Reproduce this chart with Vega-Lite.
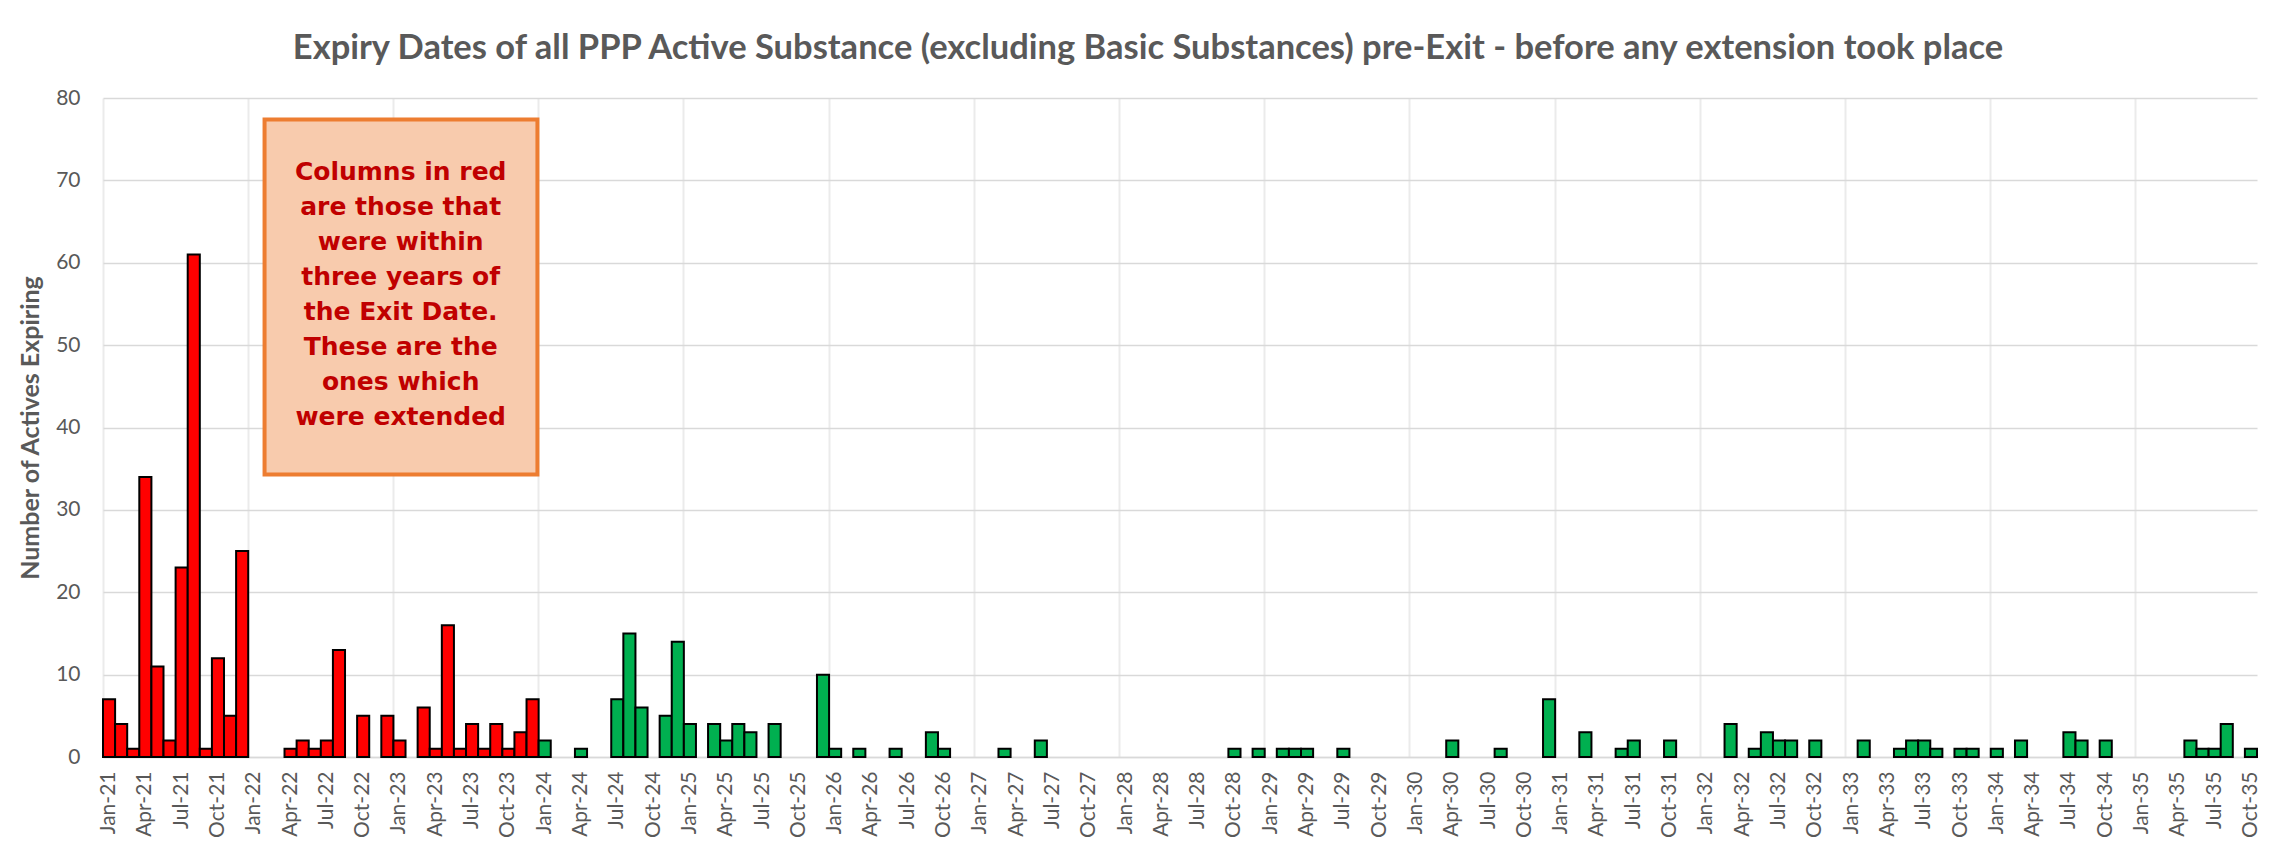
{
  "$schema": "https://vega.github.io/schema/vega-lite/v6.json",
  "width": 2154,
  "height": 659,
  "autosize": {"type": "none"},
  "padding": {"left": 103, "top": 98, "right": 30, "bottom": 104},
  "background": "white",
  "title": {
    "text": "Expiry Dates of all PPP Active Substance (excluding Basic Substances) pre-Exit - before any extension took place",
    "font": "Lato",
    "fontSize": 34.5,
    "fontWeight": "bold",
    "color": "#595959",
    "anchor": "middle",
    "frame": "group",
    "baseline": "alphabetic",
    "offset": 38,
    "dy": 44,
    "dx": -32
  },
  "config": {
    "view": {"stroke": null},
    "axis": {"labelFont": "Lato", "titleFont": "Lato"}
  },
  "datasets": {
    "expiries": [
      {"month": "Jan-21", "count": 7, "extended": "Yes"},
      {"month": "Feb-21", "count": 4, "extended": "Yes"},
      {"month": "Mar-21", "count": 1, "extended": "Yes"},
      {"month": "Apr-21", "count": 34, "extended": "Yes"},
      {"month": "May-21", "count": 11, "extended": "Yes"},
      {"month": "Jun-21", "count": 2, "extended": "Yes"},
      {"month": "Jul-21", "count": 23, "extended": "Yes"},
      {"month": "Aug-21", "count": 61, "extended": "Yes"},
      {"month": "Sep-21", "count": 1, "extended": "Yes"},
      {"month": "Oct-21", "count": 12, "extended": "Yes"},
      {"month": "Nov-21", "count": 5, "extended": "Yes"},
      {"month": "Dec-21", "count": 25, "extended": "Yes"},
      {"month": "Apr-22", "count": 1, "extended": "Yes"},
      {"month": "May-22", "count": 2, "extended": "Yes"},
      {"month": "Jun-22", "count": 1, "extended": "Yes"},
      {"month": "Jul-22", "count": 2, "extended": "Yes"},
      {"month": "Aug-22", "count": 13, "extended": "Yes"},
      {"month": "Oct-22", "count": 5, "extended": "Yes"},
      {"month": "Dec-22", "count": 5, "extended": "Yes"},
      {"month": "Jan-23", "count": 2, "extended": "Yes"},
      {"month": "Mar-23", "count": 6, "extended": "Yes"},
      {"month": "Apr-23", "count": 1, "extended": "Yes"},
      {"month": "May-23", "count": 16, "extended": "Yes"},
      {"month": "Jun-23", "count": 1, "extended": "Yes"},
      {"month": "Jul-23", "count": 4, "extended": "Yes"},
      {"month": "Aug-23", "count": 1, "extended": "Yes"},
      {"month": "Sep-23", "count": 4, "extended": "Yes"},
      {"month": "Oct-23", "count": 1, "extended": "Yes"},
      {"month": "Nov-23", "count": 3, "extended": "Yes"},
      {"month": "Dec-23", "count": 7, "extended": "Yes"},
      {"month": "Jan-24", "count": 2, "extended": "No"},
      {"month": "Apr-24", "count": 1, "extended": "No"},
      {"month": "Jul-24", "count": 7, "extended": "No"},
      {"month": "Aug-24", "count": 15, "extended": "No"},
      {"month": "Sep-24", "count": 6, "extended": "No"},
      {"month": "Nov-24", "count": 5, "extended": "No"},
      {"month": "Dec-24", "count": 14, "extended": "No"},
      {"month": "Jan-25", "count": 4, "extended": "No"},
      {"month": "Mar-25", "count": 4, "extended": "No"},
      {"month": "Apr-25", "count": 2, "extended": "No"},
      {"month": "May-25", "count": 4, "extended": "No"},
      {"month": "Jun-25", "count": 3, "extended": "No"},
      {"month": "Aug-25", "count": 4, "extended": "No"},
      {"month": "Dec-25", "count": 10, "extended": "No"},
      {"month": "Jan-26", "count": 1, "extended": "No"},
      {"month": "Mar-26", "count": 1, "extended": "No"},
      {"month": "Jun-26", "count": 1, "extended": "No"},
      {"month": "Sep-26", "count": 3, "extended": "No"},
      {"month": "Oct-26", "count": 1, "extended": "No"},
      {"month": "Mar-27", "count": 1, "extended": "No"},
      {"month": "Jun-27", "count": 2, "extended": "No"},
      {"month": "Oct-28", "count": 1, "extended": "No"},
      {"month": "Dec-28", "count": 1, "extended": "No"},
      {"month": "Feb-29", "count": 1, "extended": "No"},
      {"month": "Mar-29", "count": 1, "extended": "No"},
      {"month": "Apr-29", "count": 1, "extended": "No"},
      {"month": "Jul-29", "count": 1, "extended": "No"},
      {"month": "Apr-30", "count": 2, "extended": "No"},
      {"month": "Aug-30", "count": 1, "extended": "No"},
      {"month": "Dec-30", "count": 7, "extended": "No"},
      {"month": "Mar-31", "count": 3, "extended": "No"},
      {"month": "Jun-31", "count": 1, "extended": "No"},
      {"month": "Jul-31", "count": 2, "extended": "No"},
      {"month": "Oct-31", "count": 2, "extended": "No"},
      {"month": "Mar-32", "count": 4, "extended": "No"},
      {"month": "May-32", "count": 1, "extended": "No"},
      {"month": "Jun-32", "count": 3, "extended": "No"},
      {"month": "Jul-32", "count": 2, "extended": "No"},
      {"month": "Aug-32", "count": 2, "extended": "No"},
      {"month": "Oct-32", "count": 2, "extended": "No"},
      {"month": "Feb-33", "count": 2, "extended": "No"},
      {"month": "May-33", "count": 1, "extended": "No"},
      {"month": "Jun-33", "count": 2, "extended": "No"},
      {"month": "Jul-33", "count": 2, "extended": "No"},
      {"month": "Aug-33", "count": 1, "extended": "No"},
      {"month": "Oct-33", "count": 1, "extended": "No"},
      {"month": "Nov-33", "count": 1, "extended": "No"},
      {"month": "Jan-34", "count": 1, "extended": "No"},
      {"month": "Mar-34", "count": 2, "extended": "No"},
      {"month": "Jul-34", "count": 3, "extended": "No"},
      {"month": "Aug-34", "count": 2, "extended": "No"},
      {"month": "Oct-34", "count": 2, "extended": "No"},
      {"month": "May-35", "count": 2, "extended": "No"},
      {"month": "Jun-35", "count": 1, "extended": "No"},
      {"month": "Jul-35", "count": 1, "extended": "No"},
      {"month": "Aug-35", "count": 4, "extended": "No"},
      {"month": "Oct-35", "count": 1, "extended": "No"}
    ]
  },
  "layer": [
    {
      "data": {"name": "expiries"},
      "mark": {"type": "rule", "opacity": 0},
      "encoding": {
        "x": {
          "field": "month",
          "type": "ordinal",
          "scale": {
            "type": "band",
            "paddingInner": 0,
            "paddingOuter": 0,
            "domain": ["Jan-21","Feb-21","Mar-21","Apr-21","May-21","Jun-21","Jul-21","Aug-21","Sep-21","Oct-21","Nov-21","Dec-21","Jan-22","Feb-22","Mar-22","Apr-22","May-22","Jun-22","Jul-22","Aug-22","Sep-22","Oct-22","Nov-22","Dec-22","Jan-23","Feb-23","Mar-23","Apr-23","May-23","Jun-23","Jul-23","Aug-23","Sep-23","Oct-23","Nov-23","Dec-23","Jan-24","Feb-24","Mar-24","Apr-24","May-24","Jun-24","Jul-24","Aug-24","Sep-24","Oct-24","Nov-24","Dec-24","Jan-25","Feb-25","Mar-25","Apr-25","May-25","Jun-25","Jul-25","Aug-25","Sep-25","Oct-25","Nov-25","Dec-25","Jan-26","Feb-26","Mar-26","Apr-26","May-26","Jun-26","Jul-26","Aug-26","Sep-26","Oct-26","Nov-26","Dec-26","Jan-27","Feb-27","Mar-27","Apr-27","May-27","Jun-27","Jul-27","Aug-27","Sep-27","Oct-27","Nov-27","Dec-27","Jan-28","Feb-28","Mar-28","Apr-28","May-28","Jun-28","Jul-28","Aug-28","Sep-28","Oct-28","Nov-28","Dec-28","Jan-29","Feb-29","Mar-29","Apr-29","May-29","Jun-29","Jul-29","Aug-29","Sep-29","Oct-29","Nov-29","Dec-29","Jan-30","Feb-30","Mar-30","Apr-30","May-30","Jun-30","Jul-30","Aug-30","Sep-30","Oct-30","Nov-30","Dec-30","Jan-31","Feb-31","Mar-31","Apr-31","May-31","Jun-31","Jul-31","Aug-31","Sep-31","Oct-31","Nov-31","Dec-31","Jan-32","Feb-32","Mar-32","Apr-32","May-32","Jun-32","Jul-32","Aug-32","Sep-32","Oct-32","Nov-32","Dec-32","Jan-33","Feb-33","Mar-33","Apr-33","May-33","Jun-33","Jul-33","Aug-33","Sep-33","Oct-33","Nov-33","Dec-33","Jan-34","Feb-34","Mar-34","Apr-34","May-34","Jun-34","Jul-34","Aug-34","Sep-34","Oct-34","Nov-34","Dec-34","Jan-35","Feb-35","Mar-35","Apr-35","May-35","Jun-35","Jul-35","Aug-35","Sep-35","Oct-35"]
          },
          "axis": {
            "orient": "bottom",
            "values": ["Jan-21","Jan-22","Jan-23","Jan-24","Jan-25","Jan-26","Jan-27","Jan-28","Jan-29","Jan-30","Jan-31","Jan-32","Jan-33","Jan-34","Jan-35"],
            "bandPosition": 0,
            "grid": true,
            "gridColor": "#EBEBEB",
            "gridWidth": 2,
            "labels": false,
            "ticks": false,
            "domain": false,
            "title": null
          }
        }
      }
    },
    {
      "data": {"name": "expiries"},
      "mark": {"type": "bar", "stroke": "black", "strokeWidth": 2},
      "encoding": {
        "x": {
          "field": "month",
          "type": "ordinal",
          "scale": {
            "type": "band",
            "paddingInner": 0,
            "paddingOuter": 0,
            "domain": ["Jan-21","Feb-21","Mar-21","Apr-21","May-21","Jun-21","Jul-21","Aug-21","Sep-21","Oct-21","Nov-21","Dec-21","Jan-22","Feb-22","Mar-22","Apr-22","May-22","Jun-22","Jul-22","Aug-22","Sep-22","Oct-22","Nov-22","Dec-22","Jan-23","Feb-23","Mar-23","Apr-23","May-23","Jun-23","Jul-23","Aug-23","Sep-23","Oct-23","Nov-23","Dec-23","Jan-24","Feb-24","Mar-24","Apr-24","May-24","Jun-24","Jul-24","Aug-24","Sep-24","Oct-24","Nov-24","Dec-24","Jan-25","Feb-25","Mar-25","Apr-25","May-25","Jun-25","Jul-25","Aug-25","Sep-25","Oct-25","Nov-25","Dec-25","Jan-26","Feb-26","Mar-26","Apr-26","May-26","Jun-26","Jul-26","Aug-26","Sep-26","Oct-26","Nov-26","Dec-26","Jan-27","Feb-27","Mar-27","Apr-27","May-27","Jun-27","Jul-27","Aug-27","Sep-27","Oct-27","Nov-27","Dec-27","Jan-28","Feb-28","Mar-28","Apr-28","May-28","Jun-28","Jul-28","Aug-28","Sep-28","Oct-28","Nov-28","Dec-28","Jan-29","Feb-29","Mar-29","Apr-29","May-29","Jun-29","Jul-29","Aug-29","Sep-29","Oct-29","Nov-29","Dec-29","Jan-30","Feb-30","Mar-30","Apr-30","May-30","Jun-30","Jul-30","Aug-30","Sep-30","Oct-30","Nov-30","Dec-30","Jan-31","Feb-31","Mar-31","Apr-31","May-31","Jun-31","Jul-31","Aug-31","Sep-31","Oct-31","Nov-31","Dec-31","Jan-32","Feb-32","Mar-32","Apr-32","May-32","Jun-32","Jul-32","Aug-32","Sep-32","Oct-32","Nov-32","Dec-32","Jan-33","Feb-33","Mar-33","Apr-33","May-33","Jun-33","Jul-33","Aug-33","Sep-33","Oct-33","Nov-33","Dec-33","Jan-34","Feb-34","Mar-34","Apr-34","May-34","Jun-34","Jul-34","Aug-34","Sep-34","Oct-34","Nov-34","Dec-34","Jan-35","Feb-35","Mar-35","Apr-35","May-35","Jun-35","Jul-35","Aug-35","Sep-35","Oct-35"]
          },
          "axis": {
            "orient": "bottom",
            "values": ["Jan-21","Apr-21","Jul-21","Oct-21","Jan-22","Apr-22","Jul-22","Oct-22","Jan-23","Apr-23","Jul-23","Oct-23","Jan-24","Apr-24","Jul-24","Oct-24","Jan-25","Apr-25","Jul-25","Oct-25","Jan-26","Apr-26","Jul-26","Oct-26","Jan-27","Apr-27","Jul-27","Oct-27","Jan-28","Apr-28","Jul-28","Oct-28","Jan-29","Apr-29","Jul-29","Oct-29","Jan-30","Apr-30","Jul-30","Oct-30","Jan-31","Apr-31","Jul-31","Oct-31","Jan-32","Apr-32","Jul-32","Oct-32","Jan-33","Apr-33","Jul-33","Oct-33","Jan-34","Apr-34","Jul-34","Oct-34","Jan-35","Apr-35","Jul-35","Oct-35"],
            "labelAngle": -90,
            "labelFontSize": 21,
            "labelColor": "#595959",
            "labelPadding": 14,
            "ticks": false,
            "grid": false,
            "domainColor": "#D9D9D9",
            "domainWidth": 1.5,
            "title": null
          }
        },
        "y": {
          "field": "count",
          "type": "quantitative",
          "title": "Number of Actives Expiring",
          "scale": {"domain": [0, 80], "nice": false},
          "axis": {
            "values": [0, 10, 20, 30, 40, 50, 60, 70, 80],
            "labelFontSize": 21,
            "labelColor": "#595959",
            "labelPadding": 23,
            "ticks": false,
            "domain": false,
            "gridColor": "#D9D9D9",
            "gridWidth": 1.5,
            "titleFontSize": 25,
            "titleFontWeight": "bold",
            "titleColor": "#595959",
            "titlePadding": 12
          }
        },
        "color": {
          "field": "extended",
          "type": "nominal",
          "scale": {"domain": ["Yes", "No"], "range": ["#FF0000", "#00B050"]},
          "legend": null
        }
      }
    },
    {
      "data": {"values": [{}]},
      "layer": [
        {
          "mark": {"type": "rect", "fill": "#F8CBAD", "stroke": "#ED7D31", "strokeWidth": 4},
          "encoding": {
            "x": {"datum": 13.35, "type": "quantitative", "scale": {"domain": [0, 178], "nice": false, "zero": false}, "axis": null},
            "x2": {"datum": 35.9},
            "y": {"datum": 34.3, "type": "quantitative", "title": "Number of Actives Expiring"},
            "y2": {"datum": 77.4}
          }
        },
        {
          "mark": {
            "type": "text",
            "text": ["Columns in red", "are those that", "were within", "three years of", "the Exit Date.", "These are the", "ones which", "were extended"],
            "font": "DejaVu Sans",
            "fontWeight": "bold",
            "fontSize": 25,
            "lineHeight": 35,
            "color": "#C00000",
            "align": "center",
            "baseline": "middle"
          },
          "encoding": {
            "x": {"datum": 24.6, "type": "quantitative", "axis": null},
            "y": {"datum": 71.0, "type": "quantitative", "title": "Number of Actives Expiring"}
          }
        }
      ]
    }
  ],
  "resolve": {"scale": {"x": "independent"}, "axis": {"x": "independent"}}
}
